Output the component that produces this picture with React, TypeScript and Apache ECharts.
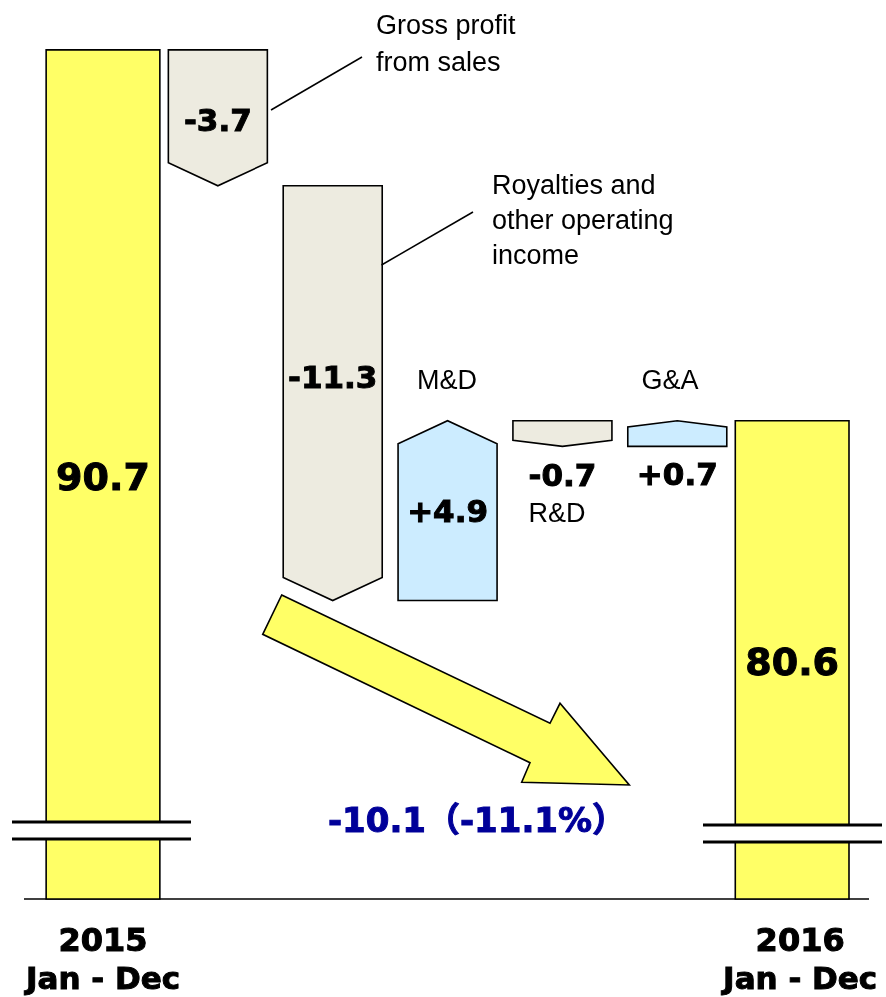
import React, { useEffect, useRef } from 'react';
import * as echarts from 'echarts';

const categories = ['2015\nJan - Dec', 'Gross profit\nfrom sales', 'Royalties and\nother operating\nincome', 'M&D', 'R&D', 'G&A', '2016\nJan - Dec'];
const kinds = ['total', 'delta', 'delta', 'delta', 'delta', 'delta', 'total'];
const values = [90.7, -3.7, -11.3, 4.9, -0.7, 0.7, 80.6];
const valueLabels = ['90.7', '-3.7', '-11.3', '+4.9', '-0.7', '+0.7', '80.6'];
const changeLabel = '-10.1（-11.1%）';
const axisMin = 67.57;
const axisMax = 92.06;

// style-only arrays
const labelPlacement = ['center', 'center', 'center', 'center', 'below', 'below', 'center'];
const labelShift = [3, 2, -16, 0, 29, 28, 2];
const fillColors = ['#FFFF66', '#EDEBE0', '#EDEBE0', '#CCECFF', '#EDEBE0', '#CCECFF', '#FFFF66'];
const labelPadLeft = [0, 0, 0, 0, 0, 0, 16];

const BOLD = '"DejaVu Sans", "Noto Sans CJK JP", sans-serif';
const REG = '"Liberation Sans", Arial, sans-serif';

export default function App() {
  const ref = useRef<HTMLDivElement>(null);
  useEffect(() => {
    if (!ref.current) return;
    const chart = echarts.init(ref.current, undefined, { renderer: 'svg' });

    let running = 0;
    const items = values.map((v, i) => {
      if (kinds[i] === 'total') {
        running = v;
        return [i, axisMin, v];
      }
      const s = running;
      running = running + v;
      return [i, s, running];
    });

    const renderItem = (params: any, api: any) => {
      const idx = api.value(0);
      const start = api.value(1);
      const end = api.value(2);
      const [cx, yS] = api.coord([idx, start]);
      const [, yE] = api.coord([idx, end]);
      const band = api.size([1, 0])[0];
      const children: any[] = [];
      const stroke = { stroke: '#000', lineWidth: 1.6 };
      if (kinds[idx] === 'total') {
        const w = band * 0.99;
        children.push({
          type: 'rect',
          shape: { x: cx - w / 2, y: yE, width: w, height: yS - yE },
          style: { fill: fillColors[idx], ...stroke },
        });
      } else {
        const w = band * 0.862;
        const l = cx - w / 2;
        const r = cx + w / 2;
        const yTop = Math.min(yS, yE);
        const yBot = Math.max(yS, yE);
        const h = yBot - yTop;
        const ah = Math.min(23, h * 0.24);
        let pts;
        if (values[idx] < 0) {
          pts = [[l, yTop], [r, yTop], [r, yBot - ah], [cx, yBot], [l, yBot - ah]];
        } else {
          pts = [[l, yBot], [r, yBot], [r, yTop + ah], [cx, yTop], [l, yTop + ah]];
        }
        children.push({
          type: 'polygon',
          shape: { points: pts },
          style: { fill: fillColors[idx], ...stroke, lineJoin: 'miter' },
        });
      }
      const yTop = Math.min(yS, yE);
      const yBot = Math.max(yS, yE);
      const ly = labelPlacement[idx] === 'below' ? yBot + labelShift[idx] : (yTop + yBot) / 2 + labelShift[idx];
      children.push({
        type: 'text',
        x: cx,
        y: ly,
        style: {
          text: valueLabels[idx],
          align: 'center',
          verticalAlign: 'middle',
          fontFamily: BOLD,
          fontWeight: 'bold',
          fontSize: kinds[idx] === 'total' ? 38 : 31,
          fill: '#000',
          stroke: '#000',
          lineWidth: 1,
        },
      });
      return { type: 'group', children };
    };

    const regText = (text: string, x: number, y: number, align: string, va: string, lh: number) => ({
      type: 'text',
      x,
      y,
      z: 50,
      style: {
        text,
        align,
        verticalAlign: va,
        fontFamily: REG,
        fontSize: 27,
        lineHeight: lh,
        fill: '#000',
      },
    });

    const breakMark = (x1: number, x2: number, y1: number, y2: number) => [
      { type: 'rect', z: 100, shape: { x: x1, y: y1, width: x2 - x1, height: y2 - y1 }, style: { fill: '#fff' } },
      { type: 'line', z: 101, shape: { x1, y1, x2, y2: y1 }, style: { stroke: '#000', lineWidth: 3 } },
      { type: 'line', z: 101, shape: { x1, y1: y2, x2, y2 }, style: { stroke: '#000', lineWidth: 3 } },
    ];

    const richBase = {
      fontFamily: BOLD,
      fontWeight: 'bold',
      fontSize: 32,
      color: '#000',
      textBorderColor: '#000',
      textBorderWidth: 1,
    };

    chart.setOption({
      animation: false,
      grid: { left: 45.57, width: 804, top: 0, bottom: 98, outerBoundsMode: 'none', containLabel: false },
      xAxis: {
        type: 'category',
        data: categories.map((c, i) => ({ value: c, textStyle: { padding: [0, 0, 0, labelPadLeft[i]] } })),
        axisLine: { show: false },
        axisTick: { show: false },
        axisLabel: {
          interval: 0,
          margin: 16,
          formatter: (v: string, i: number) => {
            if (kinds[i] !== 'total') return '';
            const [a, b] = v.split('\n');
            return `{a|${a}}\n{b|${b}}`;
          },
          rich: {
            a: { ...richBase, lineHeight: 50 },
            b: { ...richBase, fontSize: 31, lineHeight: 26 },
          },
        },
      },
      yAxis: { type: 'value', min: axisMin, max: axisMax, show: false },
      series: [
        {
          type: 'custom',
          renderItem,
          data: items,
          clip: false,
          z: 10,
        },
      ],
      graphic: [
        { type: 'line', z: 5, shape: { x1: 24, y1: 899, x2: 869, y2: 899 }, style: { stroke: '#000', lineWidth: 1.5 } },
        ...breakMark(12, 191, 822, 839),
        ...breakMark(703, 882, 825, 842),
        {
          type: 'polygon',
          z: 20,
          shape: {
            points: [[281.7, 595], [550, 723.3], [560, 703.3], [629.3, 785], [521.7, 782.3], [530, 762.7], [262.7, 634.3]],
          },
          style: { fill: '#FFFF66', stroke: '#000', lineWidth: 1.6 },
        },
        { type: 'line', z: 20, shape: { x1: 271, y1: 110, x2: 362, y2: 57 }, style: { stroke: '#000', lineWidth: 1.5 } },
        { type: 'line', z: 20, shape: { x1: 381.5, y1: 265, x2: 473, y2: 212 }, style: { stroke: '#000', lineWidth: 1.5 } },
        regText(categories[1], 376, 6.5, 'left', 'top', 37),
        regText(categories[2], 492, 167.5, 'left', 'top', 35),
        regText(categories[3], 447, 380, 'center', 'middle', 30),
        regText(categories[4], 557, 513, 'center', 'middle', 30),
        regText(categories[5], 670, 380, 'center', 'middle', 30),
        {
          type: 'text',
          x: 477,
          y: 820,
          z: 50,
          style: {
            text: changeLabel,
            align: 'center',
            verticalAlign: 'middle',
            fontFamily: BOLD,
            fontWeight: 'bold',
            fontSize: 34,
            fill: '#000099',
            stroke: '#000099',
            lineWidth: 1,
          },
        },
      ],
    });
    return () => chart.dispose();
  }, []);
  return <div ref={ref} style={{ position: 'fixed', left: 0, top: 0, width: 886, height: 997 }} />;
}
